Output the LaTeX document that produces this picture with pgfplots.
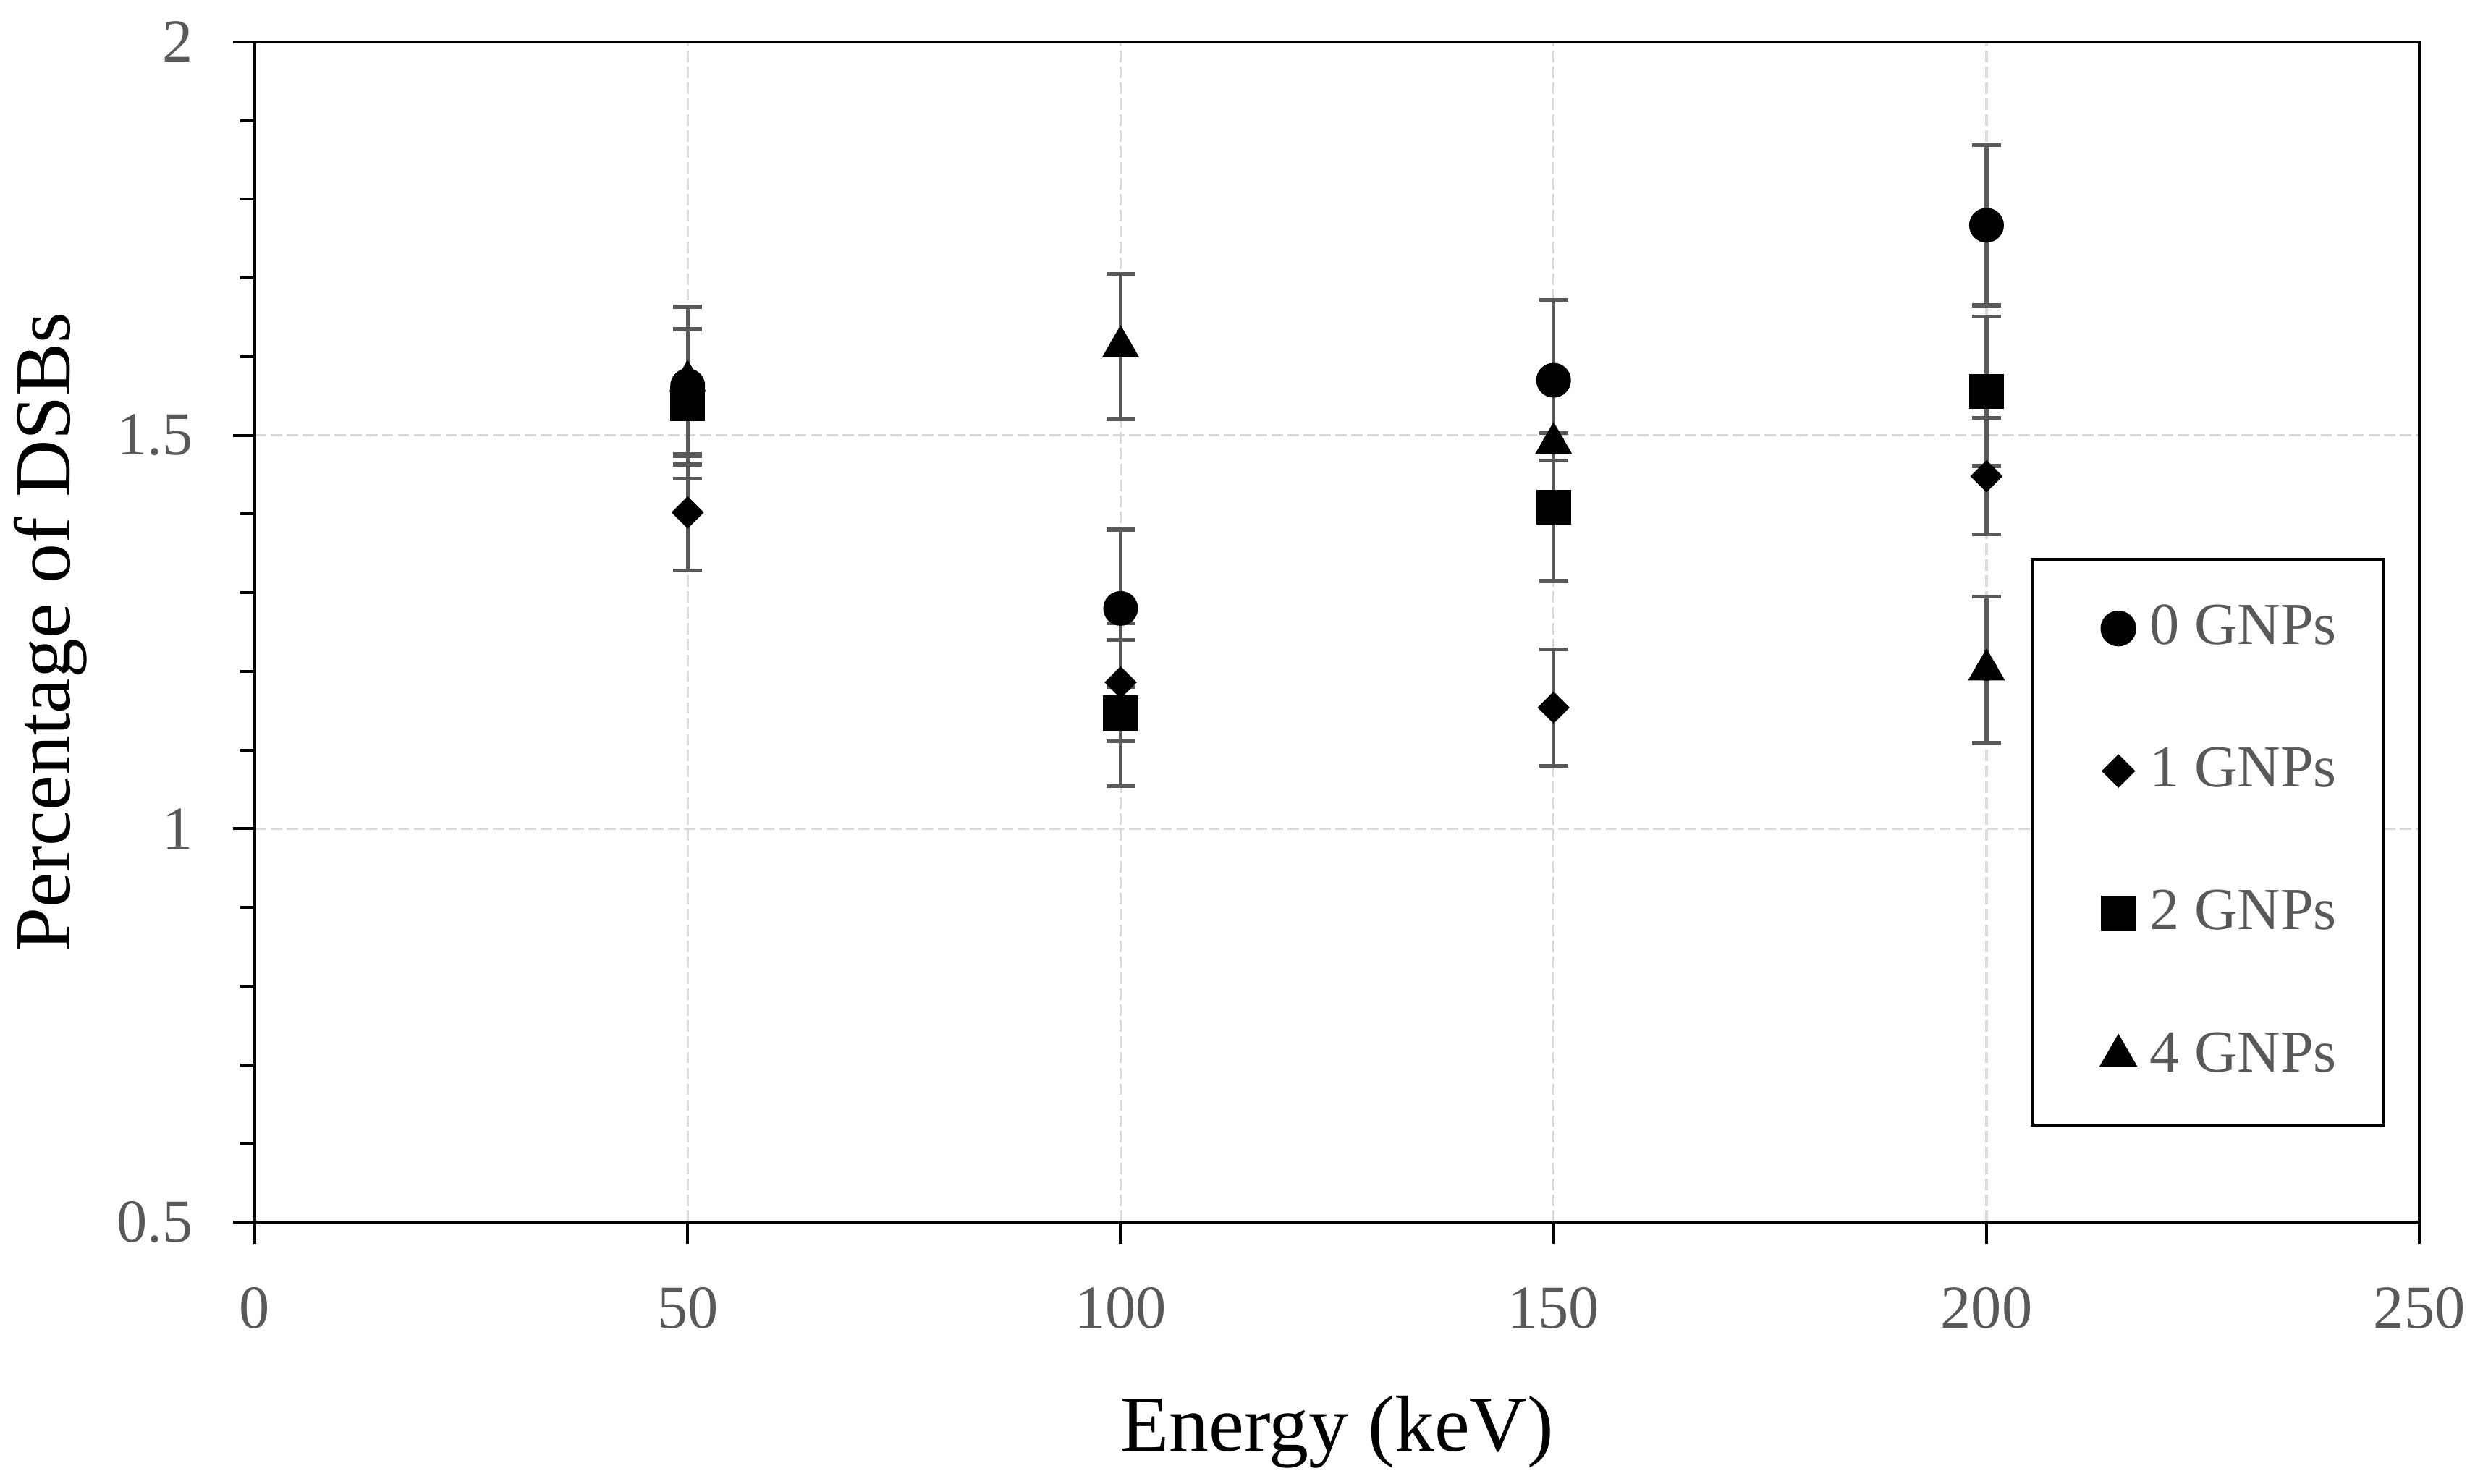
\documentclass[border=0pt]{standalone}
\usepackage{fontspec}
\setmainfont{Liberation Serif}
\usepackage{pgfplots}
\pgfplotsset{compat=1.18}
\definecolor{tickgray}{HTML}{595959}
\definecolor{gridgray}{HTML}{D9D9D9}

% energy (keV), percentage of DSBs, error
\pgfplotstableread{
x y e
50 1.563 0.100
100 1.280 0.100
150 1.570 0.102
200 1.767 0.102
}\gnpzero
\pgfplotstableread{
x y e
50 1.402 0.074
100 1.186 0.075
150 1.154 0.074
200 1.448 0.074
}\gnpone
\pgfplotstableread{
x y e
50 1.540 0.095
100 1.147 0.093
150 1.409 0.094
200 1.556 0.095
}\gnptwo
\pgfplotstableread{
x y e
50 1.569 0.095
100 1.613 0.092
150 1.490 0.090
200 1.202 0.093
}\gnpfour

\pgfplotsset{
  ebar/.style={only marks, mark=none, forget plot,
    error bars/y dir=both, error bars/y explicit,
    error bars/error bar style={tickgray, line width=0.8pt},
    error bars/error mark options={rotate=90, tickgray, mark size=2.9pt, line width=0.8pt}},
}

\begin{document}
\begin{tikzpicture}
\begin{axis}[
  at={(0,0)}, anchor=south west,
  width=435.9pt, height=237.7pt, scale only axis,
  xmin=0, xmax=250, ymin=0.5, ymax=2,
  xtick={0,50,...,250}, ytick={0.5,1,1.5,2}, minor y tick num=4,
  tick align=outside, xtick pos=bottom, ytick pos=left,
  major tick length=4.4pt, minor tick length=2.9pt,
  tick style={black, line width=0.6pt},
  axis line style={line width=0.6pt},
  xmajorgrids, ymajorgrids,
  major grid style={gridgray, dash pattern=on 2.3pt off 0.9pt, line width=0.5pt},
  /pgf/number format/assume math mode=true,
  tick label style={font=\fontsize{12.3}{14}\selectfont, text=tickgray},
  xticklabel style={yshift=-5.2pt},
  yticklabel style={xshift=-4.5pt},
  label style={font=\fontsize{16}{19}\selectfont},
  xlabel={Energy (keV)},
  ylabel={Percentage of DSBs},
  xlabel style={at={(axis description cs:0.5,-0.194)}, anchor=base},
  ylabel style={at={(axis description cs:-0.0853,0.5)}, anchor=base},
  legend cell align=left,
  legend image code/.code={\path (-9.5pt,0pt) (4pt,0pt); \draw[#1] plot coordinates {(0pt,0pt)};},
  legend style={at={(axis description cs:0.9843,0.5629)}, anchor=north east,
    draw=black, line width=0.6pt, text=tickgray,
    font=\fontsize{12}{14}\selectfont,
    inner xsep=7.5pt, inner ysep=7.2pt, row sep=15.25pt},
]
% error bars first, markers drawn over them
\addplot[ebar] table[x=x, y=y, y error=e] {\gnpzero};
\addplot[ebar] table[x=x, y=y, y error=e] {\gnpone};
\addplot[ebar] table[x=x, y=y, y error=e] {\gnptwo};
\addplot[ebar] table[x=x, y=y, y error=e] {\gnpfour};

\addplot[only marks, mark=*, mark size=3.3pt, black] table[x=x, y=y] {\gnpzero};
\addlegendentry{0 GNPs}
\addplot[only marks, mark=square*, mark size=2.1pt, mark options={rotate=45}, black] table[x=x, y=y] {\gnpone};
\addlegendentry{1 GNPs}
\addplot[only marks, mark=square*, mark size=3.3pt, black] table[x=x, y=y] {\gnptwo};
\addlegendentry{2 GNPs}
\addplot[only marks, mark=triangle*, mark size=3.9pt, black] table[x=x, y=y] {\gnpfour};
\addlegendentry{4 GNPs}
\end{axis}
\pgfresetboundingbox
\path (-51.3pt,-52.6pt) rectangle (448.7pt,246.15pt);
\end{tikzpicture}
\end{document}
